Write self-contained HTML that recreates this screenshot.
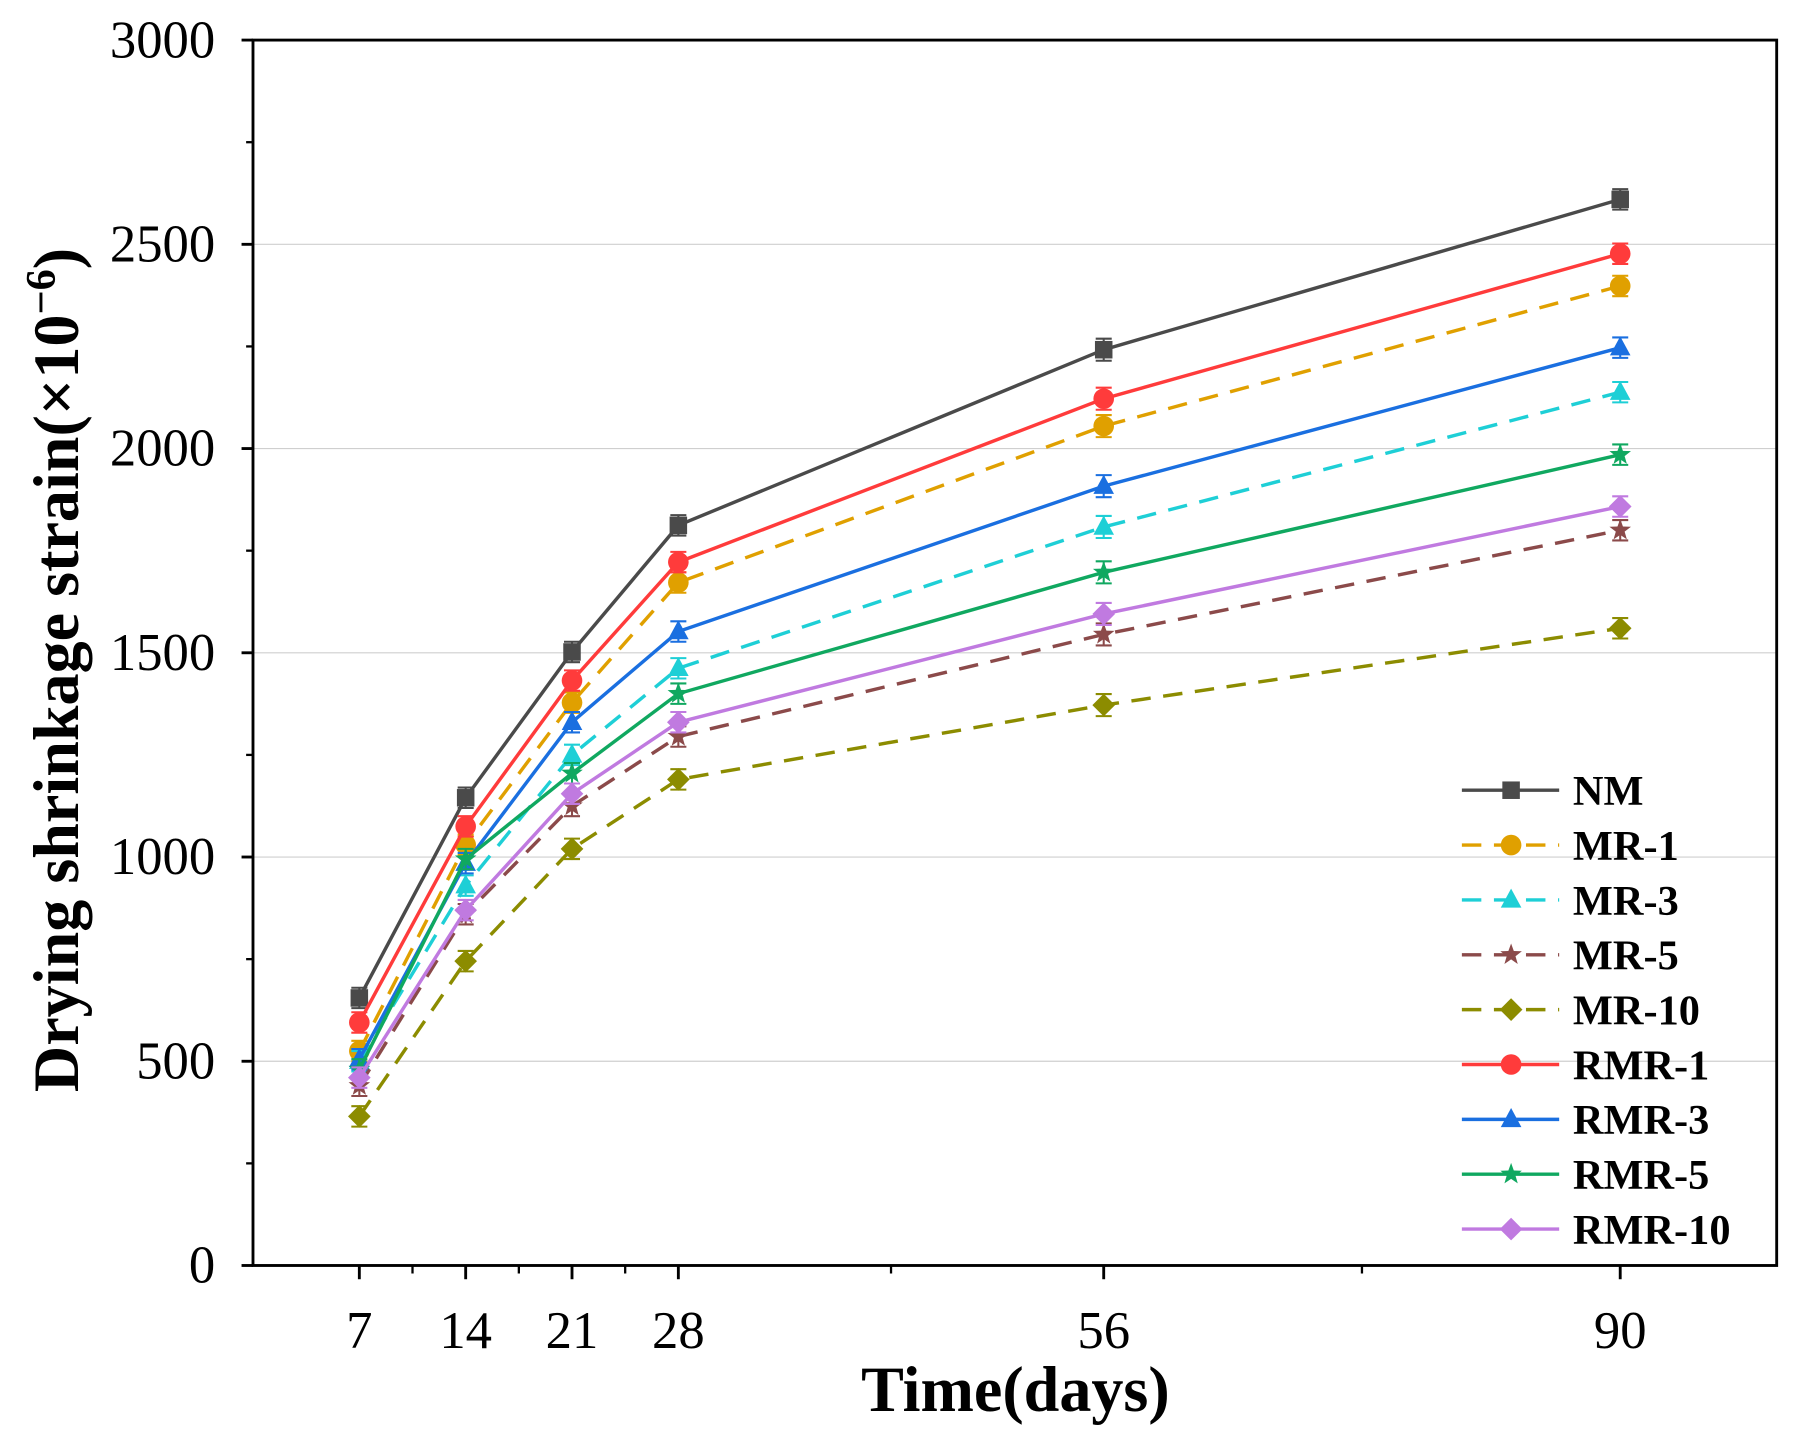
<!DOCTYPE html>
<html><head><meta charset="utf-8"><style>
html,body{margin:0;padding:0;background:#fff;}
svg{display:block;}
text{font-family:"Liberation Serif",serif;}
</style></head><body>
<svg id="chart" width="1795" height="1443" viewBox="0 0 1568 1260" preserveAspectRatio="none" xmlns="http://www.w3.org/2000/svg"></svg>
<script>
const days = [7, 14, 21, 28, 56, 90];
const seriesNames = ["NM","MR-1","MR-3","MR-5","MR-10","RMR-1","RMR-3","RMR-5","RMR-10"];
const NM    = [655,1145,1502,1812,2242,2610];
const MR1   = [525,1030,1378,1672,2055,2398];
const MR3   = [500,930,1250,1462,1808,2138];
const MR5   = [440,860,1125,1295,1545,1800];
const MR10  = [365,745,1020,1190,1372,1560];
const RMR1  = [595,1075,1432,1722,2122,2477];
const RMR3  = [505,985,1330,1552,1908,2247];
const RMR5  = [480,995,1205,1400,1697,1985];
const RMR10 = [460,870,1155,1330,1595,1858];
const errBar = [25,25,25,25,27,25];
const yTicks = [0,500,1000,1500,2000,2500,3000];
const xTickLabels = [7,14,21,28,56,90];
const xMinorTicks = [10.5,17.5,24.5,42,73];

const values = [NM,MR1,MR3,MR5,MR10,RMR1,RMR3,RMR5,RMR10];
const colors = ["#4a4a4a","#e0a000","#1ecfd6","#8b4a4a","#8c8c00","#ff3b3b","#1a6fe0","#10a860","#c07ae0"];
const dashed = [false,true,true,true,true,false,false,false,false];
const markers = ["square","circle","triangle","star","diamond","circle","triangle","star","diamond"];

const L=221,R=1552,T=35,B=1105;
const xS = d => L + d*(R-L)/100.3;
const yS = v => B - v*(B-T)/3000;
const svg = document.getElementById('chart');
const NS='http://www.w3.org/2000/svg';
function mk(tag, attrs, parent){const e=document.createElementNS(NS,tag);for(const k in attrs)e.setAttribute(k,attrs[k]);(parent||svg).appendChild(e);return e;}

yTicks.forEach(v=>{ if(v>0&&v<3000){
  const g=mk('line',{x1:L,x2:R,y1:yS(v),y2:yS(v),stroke:'#cfcfcf','stroke-width':1});
  
  
}});
const fr=mk('rect',{x:L,y:T,width:R-L,height:B-T,fill:'none',stroke:'#000','stroke-width':2.5});


yTicks.forEach(v=>{
  mk('line',{x1:L-10,x2:L,y1:yS(v),y2:yS(v),stroke:'#000','stroke-width':2.5});
  const t=mk('text',{x:L-33,y:yS(v)+15,'text-anchor':'end','font-size':46});
  t.textContent=v;
  
  
  if(v<3000){mk('line',{x1:L-6,x2:L,y1:yS(v+250),y2:yS(v+250),stroke:'#000','stroke-width':2});}
});
xTickLabels.forEach(d=>{
  mk('line',{x1:xS(d),x2:xS(d),y1:B,y2:B+12,stroke:'#000','stroke-width':2.5});
  const t=mk('text',{x:xS(d),y:B+72,'text-anchor':'middle','font-size':46});
  t.textContent=d;
  
  
});
xMinorTicks.forEach(d=>{mk('line',{x1:xS(d),x2:xS(d),y1:B,y2:B+7,stroke:'#000','stroke-width':2});});

const xt=mk('text',{x:887,y:1232,'text-anchor':'middle','font-size':56,'font-weight':'bold'});
xt.textContent='Time(days)';


const yt=mk('text',{x:0,y:0,'text-anchor':'middle','font-size':56,'font-weight':'bold',transform:'translate(68,585) rotate(-90)'});
yt.innerHTML='Drying shrinkage strain(×10<tspan baseline-shift="super" font-size="37">−6</tspan>)';



function marker(type,x,y,c,parent,s){
  s=s||9;
  if(type==='square') return mk('rect',{x:x-s*0.85,y:y-s*0.85,width:s*1.7,height:s*1.7,fill:c},parent);
  if(type==='circle') return mk('circle',{cx:x,cy:y,r:s,fill:c},parent);
  if(type==='triangle') return mk('polygon',{points:`${x},${y-s*1.1} ${x-s},${y+s*0.75} ${x+s},${y+s*0.75}`,fill:c},parent);
  if(type==='diamond') return mk('polygon',{points:`${x},${y-s*1.1} ${x+s*1.1},${y} ${x},${y+s*1.1} ${x-s*1.1},${y}`,fill:c},parent);
  let pts=[];for(let i=0;i<10;i++){const r=i%2?s*0.45:s*1.1;const a=-Math.PI/2+i*Math.PI/5;pts.push((x+r*Math.cos(a))+','+(y+r*Math.sin(a)));}
  return mk('polygon',{points:pts.join(' '),fill:c},parent);
}

values.forEach((vals,si)=>{
  const g=mk('g',{});
  
  
  const pts=vals.map((v,i)=>xS(days[i])+','+yS(v)).join(' ');
  const pl=mk('polyline',{points:pts,fill:'none',stroke:colors[si],'stroke-width':3,'stroke-dasharray':dashed[si]?'17 11':'none'},g);
  
  
  vals.forEach((v,i)=>{
    const x=xS(days[i]),e=errBar[i];
    mk('line',{x1:x,x2:x,y1:yS(v-e),y2:yS(v+e),stroke:colors[si],'stroke-width':1.8},g);
    mk('line',{x1:x-7,x2:x+7,y1:yS(v-e),y2:yS(v-e),stroke:colors[si],'stroke-width':1.8},g);
    mk('line',{x1:x-7,x2:x+7,y1:yS(v+e),y2:yS(v+e),stroke:colors[si],'stroke-width':1.8},g);
    const m=marker(markers[si],x,yS(v),colors[si],g);
    
    
  });
});

const lg=mk('g',{});


seriesNames.forEach((n,i)=>{
  const y=690+i*47.9;
  const e=mk('g',{},lg);
  
  
  mk('line',{x1:1277,x2:1362,y1:y,y2:y,stroke:colors[i],'stroke-width':3,'stroke-dasharray':dashed[i]?'17 11':'none'},e);
  marker(markers[i],1320,y,colors[i],e);
  const t=mk('text',{x:1374,y:y+13,'font-size':37,'font-weight':'bold'},e);
  t.textContent=n;
});
</script>
</body></html>
